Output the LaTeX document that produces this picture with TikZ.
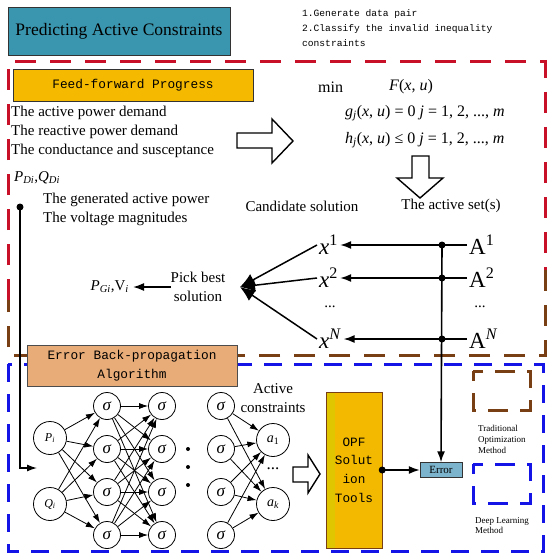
\documentclass[tikz,border=0pt]{standalone}
\usepackage{fontspec}
\setmainfont{Liberation Serif}
\setmonofont{Liberation Mono}
\usetikzlibrary{arrows.meta, positioning}

\definecolor{titleblue}{RGB}{58,150,175}
\definecolor{ffyellow}{RGB}{245,185,0}
\definecolor{bptan}{RGB}{232,172,120}
\definecolor{opfgold}{RGB}{242,185,0}
\definecolor{opfstrip}{RGB}{224,198,0}
\definecolor{errblue}{RGB}{125,180,205}
\definecolor{framered}{RGB}{200,16,40}
\definecolor{framebrown}{RGB}{120,62,20}
\definecolor{frameblue}{RGB}{20,20,230}

\newcommand{\mi}[1]{\textit{#1}}

\tikzstyle{titlebox} = [
    rectangle,
    draw=black!80,
    fill=titleblue,
    minimum width=222pt,
    minimum height=48pt,
    font=\fontsize{17.5}{20}\selectfont
]
\tikzstyle{ffbox} = [
    rectangle,
    draw=black!80,
    fill=ffyellow,
    minimum width=240pt,
    minimum height=32pt,
    font=\ttfamily\fontsize{12.8}{15}\selectfont
]
\tikzstyle{bpbox} = [
    rectangle,
    draw=black!70,
    fill=bptan,
    align=center,
    minimum width=210pt,
    minimum height=41pt,
    inner sep=0pt,
    font=\ttfamily\fontsize{12.8}{19}\selectfont
]
\tikzstyle{opfbox} = [
    rectangle,
    draw=framebrown,
    fill=opfgold,
    align=center,
    minimum width=56pt,
    minimum height=156pt,
    inner sep=0pt,
    font=\ttfamily\fontsize{12.7}{18.7}\selectfont,
    path picture={\fill[opfstrip] (path picture bounding box.north west)
        rectangle ([xshift=9pt]path picture bounding box.south west);}
]
\tikzstyle{errbox} = [
    rectangle,
    draw=black!80,
    fill=errblue,
    minimum width=42pt,
    minimum height=15pt,
    inner sep=0pt,
    font=\fontsize{11}{12}\selectfont
]
\tikzstyle{plain} = [
    inner sep=0pt,
    font=\fontsize{15}{19}\selectfont
]
\tikzstyle{formula} = [
    inner sep=0pt,
    anchor=west,
    font=\fontsize{16}{19}\selectfont
]
\tikzstyle{biglbl} = [
    inner sep=2pt,
    font=\fontsize{23}{25}\selectfont
]
\tikzstyle{neuron} = [
    circle,
    draw=black,
    thick,
    minimum size=27pt,
    inner sep=0pt,
    font=\fontsize{17}{18}\selectfont
]
\tikzstyle{inneuron} = [
    circle,
    draw=black,
    thick,
    minimum size=33pt,
    inner sep=0pt,
    font=\fontsize{12}{13}\selectfont
]
\tikzstyle{hollowarrow} = [draw=black, line width=1.4pt, fill=white]
\tikzstyle{arrow} = [line width=1.6pt, -{Latex[length=11pt,width=8pt]}]
\tikzstyle{netarrow} = [line width=0.8pt, -{Latex[length=9pt,width=6pt]}]
\tikzstyle{fanarrow} = [line width=1.5pt, -{Latex[length=15pt,width=13pt]}]
\tikzstyle{redframe} = [line width=3pt, dash pattern=on 21pt off 14pt]
\tikzstyle{blueframe} = [line width=3pt, draw=frameblue, dash pattern=on 18pt off 12pt]
\tikzstyle{legendbox} = [line width=3pt, dash pattern=on 20pt off 12pt, dash phase=10pt]
\tikzstyle{legendtext} = [inner sep=0pt, align=left, font=\fontsize{9}{10.8}\selectfont]

\begin{document}
\begin{tikzpicture}[x=1pt,y=-1pt]
\useasboundingbox[fill=white] (0,0) rectangle (550,559);

% dashed frames
\draw[redframe, draw=framered] (8,300) -- (8,62) -- (545,62) -- (545,270);
\draw[redframe, draw=framebrown] (545,270) -- (545,355) -- (8,355) -- (8,300);
\draw[blueframe] (8,364) rectangle (543,551);

% title and notes
\node (title) [titlebox] at (119,31) {Predicting Active Constraints};
\node (notes) [anchor=north west, inner sep=0pt, align=left,
    font=\ttfamily\fontsize{9.6}{15.2}\selectfont] at (302,9)
{1.Generate data pair\\2.Classify the invalid inequality\\constraints};

% feed-forward part
\node (ff) [ffbox] at (133,85) {Feed-forward Progress};

\node (demand) [plain, anchor=west, align=left] at (11,132)
{The active power demand\\The reactive power demand\\The conductance and susceptance};
\node (pdqd) [plain, anchor=west] at (14,178)
{\mi{P}\textsubscript{\mi{Di}},\mi{Q}\textsubscript{\mi{Di}}};
\node (gen) [plain, anchor=west, align=left] at (43,209)
{The generated active power\\The voltage magnitudes};

\node (minlbl) [formula] at (318,87) {min};
\node (obj) [formula] at (389,87) {\mi{F}(\mi{x}, \mi{u})};
\node (eqc) [formula] at (345,113)
{\mi{g}\textsubscript{\mi{j}}(\mi{x}, \mi{u}) = 0 \mi{j} = 1, 2, ..., \mi{m}};
\node (ineqc) [formula] at (345,140)
{\mi{h}\textsubscript{\mi{j}}(\mi{x}, \mi{u}) ≤ 0 \mi{j} = 1, 2, ..., \mi{m}};

% hollow arrows
\draw[hollowarrow] (237,133) -- (272,133) -- (272,119) -- (293,141)
    -- (272,163) -- (272,148) -- (237,148) -- cycle;
\draw[hollowarrow] (412,156) -- (429,156) -- (429,178) -- (443,178)
    -- (420,198) -- (397,178) -- (412,178) -- cycle;

\node (cand) [plain] at (302,206) {Candidate solution};
\node (actset) [plain] at (451,206) {The active set(s)};

% candidates and active sets
\node (x1) [biglbl, anchor=west] at (317,245) {\mi{x}\textsuperscript{1}};
\node (x2) [biglbl, anchor=west] at (317,278) {\mi{x}\textsuperscript{2}};
\node (xd) [plain] at (330,307) {...};
\node (xn) [biglbl, anchor=west] at (317,339) {\mi{x}\textsuperscript{\mi{N}}};
\node (A1) [biglbl, anchor=west] at (467,245) {A\textsuperscript{1}};
\node (A2) [biglbl, anchor=west] at (467,278) {A\textsuperscript{2}};
\node (Ad) [plain] at (480,307) {...};
\node (An) [biglbl, anchor=west] at (467,339) {A\textsuperscript{\mi{N}}};

\draw[arrow] (A1.west) -- (x1.east);
\draw[arrow] (A2.west) -- (x2.east);
\draw[arrow] (An.west) -- (xn.east);

\coordinate (bus1) at (442,245);
\coordinate (bus2) at (442,278);
\coordinate (busn) at (442,339);
\foreach \b in {bus1,bus2,busn}
    \fill (\b) circle (3.5pt);

% pick best solution
\coordinate (fan) at (240,287);
\draw[fanarrow] (x1.west) -- (fan);
\draw[fanarrow] (x2.west) -- (fan);
\draw[fanarrow] (xn.west) -- (fan);

\node (pick) [plain, align=center] at (198,287) {Pick best\\solution};
\node (pgv) [plain, anchor=east] at (129,287)
{\mi{P}\textsubscript{\mi{Gi}},V\textsubscript{\mi{i}}};
\draw[arrow] (pick.west) -- ([xshift=4pt]pgv.east);

% back-propagation part
\node (bp) [bpbox] at (132,366) {Error Back-propagation\\Algorithm};

\node (pin) [inneuron] at (50,438) {\mi{P}\textsubscript{\mi{i}}};
\node (qin) [inneuron] at (50,504) {\mi{Q}\textsubscript{\mi{i}}};
\foreach \k/\yy in {1/406,2/449,3/492,4/535} {
    \node (ha\k) [neuron] at (107,\yy) {\mi{σ}};
    \node (hb\k) [neuron] at (162,\yy) {\mi{σ}};
    \node (hc\k) [neuron] at (221,\yy) {\mi{σ}};
}
\node (a1) [inneuron, font=\fontsize{14}{15}\selectfont] at (273,440) {\mi{a}\textsubscript{1}};
\node (ak) [inneuron, font=\fontsize{14}{15}\selectfont] at (273,504) {\mi{a}\textsubscript{\mi{k}}};
\node (adots) [plain, font=\fontsize{17}{18}\selectfont] at (273,469) {...};

\foreach \s in {pin,qin}
    \foreach \t in {1,...,4}
        \draw[netarrow] (\s) -- (ha\t);
\foreach \s in {1,...,4}
    \foreach \t in {1,...,4}
        \draw[netarrow] (ha\s) -- (hb\t);
\foreach \s in {1,...,4}
    \foreach \t in {a1,ak}
        \draw[netarrow] (hc\s) -- (\t);

\foreach \yy in {449,467,485}
    \fill (188,\yy) circle (2pt);

\node (actc) [plain, align=center] at (273,398) {Active\\constraints};

\draw[hollowarrow] (293,467) -- (308,467) -- (308,455) -- (320,474)
    -- (308,493) -- (308,482) -- (293,482) -- cycle;

\node (opf) [opfbox] at (354,470) {OPF\\Solut\\ion\\Tools};
\node (err) [errbox] at (441,470) {Error};

\fill (opf.east) circle (3.5pt);
\draw[arrow] (opf.east) -- (err.west);
\draw[arrow] (bus1) -- (err.north);

% input link into the network
\coordinate (gendot) at (20,207);
\coordinate (netin) at (37,468);
\fill (gendot) circle (3.5pt);
\draw[line width=1.3pt, -{Latex[length=10pt,width=7pt]}] (gendot) |- (netin);

% legend
\draw[legendbox, draw=framebrown] (473,371) rectangle (530,410);
\node (legtrad) [legendtext, anchor=north west] at (478,425)
{Traditional\\Optimization\\Method};
\draw[legendbox, draw=frameblue] (473,464) rectangle (530,503);
\node (legdeep) [legendtext, anchor=north west] at (475,517)
{Deep Learning\\Method};

\end{tikzpicture}
\end{document}
